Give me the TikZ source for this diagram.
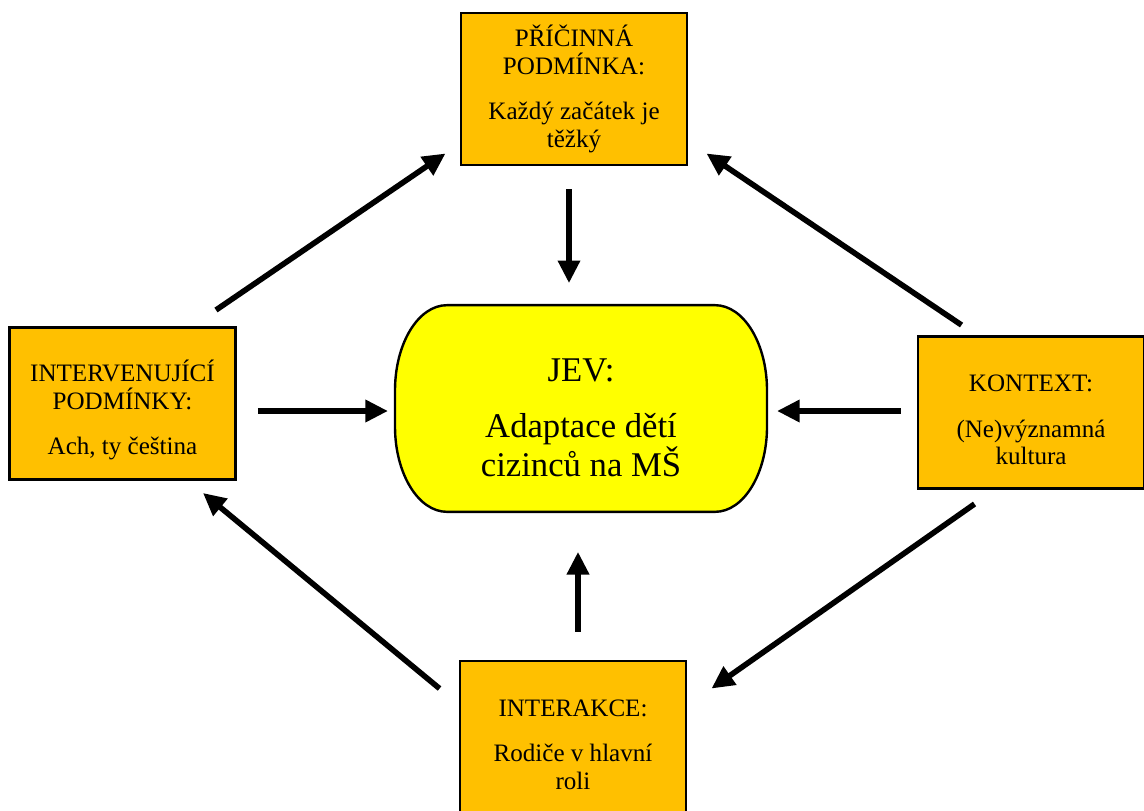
\documentclass[tikz,border=0pt]{standalone}
\usepackage{fontspec}
\setmainfont{Liberation Serif}
\usepackage{tikz}
\usetikzlibrary{arrows.meta,calc,backgrounds}

\definecolor{boxgold}{RGB}{255,192,0}
\definecolor{jevyellow}{RGB}{255,255,0}

\begin{document}
\begin{tikzpicture}[x=0.75pt,y=-0.75pt,
  condbox/.style={draw=black, line width=2.2pt, fill=boxgold, minimum width=169.5pt, minimum height=114pt, inner sep=0pt, align=center, font=\fontsize{18.8}{20.8}\selectfont},
  jevbox/.style={minimum width=279pt, minimum height=155pt, inner sep=0pt, outer sep=0pt, align=center, font=\fontsize{26}{29.5}\selectfont},
  flowarrow/.style={line width=4.2pt, -{Triangle[length=17pt,width=16pt]}}]
\useasboundingbox (0,0) rectangle (1144,810);

%Shape: Rectangle
\node[condbox] (pri) at (574,89) {PŘÍČINNÁ\\PODMÍNKA:\\[13pt]Každý začátek je\\těžký};
%Shape: Rectangle
\node[condbox] (interv) at (122.5,403.5) {\rule{0pt}{26pt}INTERVENUJÍCÍ\\PODMÍNKY:\\[13pt]Ach, ty čeština};
%Shape: Rectangle
\node[condbox] (kontext) at (1031,412.5) {\rule{0pt}{24pt}KONTEXT:\\[13pt](Ne)významná\\kultura};
%Shape: Rectangle
\node[condbox] (interakce) at (573,737) {\rule{0pt}{24pt}INTERAKCE:\\[13pt]Rodiče v hlavní\\roli};

% Text Node
\node[jevbox] (jev) at (581,408.5) {\rule{0pt}{31pt}JEV:\\[12pt]Adaptace dětí\\cizinců na MŠ};
%Shape: Rounded Rectangle
\begin{scope}[on background layer]
\draw[line width=1.8pt, fill=jevyellow] ([xshift=39pt]jev.north west) -- ([xshift=-39pt]jev.north east)
  arc[start angle=90, end angle=0, x radius=39pt, y radius=64pt] -- ([yshift=64pt]jev.south east)
  arc[start angle=0, end angle=-90, x radius=39pt, y radius=64pt] -- ([xshift=39pt]jev.south west)
  arc[start angle=270, end angle=180, x radius=39pt, y radius=64pt] -- ([yshift=-64pt]jev.north west)
  arc[start angle=180, end angle=90, x radius=39pt, y radius=64pt] -- cycle;
\end{scope}

%Straight Lines
\draw[flowarrow] ($(interv.north east)+(-21,-16)$) -- ($(pri.south west)+(-14,-13)$);
\draw[flowarrow] ($(kontext.north west)+(45,-10)$) -- ($(pri.south east)+(18,-13)$);
\draw[flowarrow] ($(kontext.south west)+(58,14)$) -- ($(interakce.north east)+(24,29)$);
\draw[flowarrow] ($(interakce.north west)+(-19,29)$) -- ($(interv.south east)+(-34,12)$);
%Straight Lines
\draw[flowarrow] ($(pri.south)+(-5,23)$) -- ($(jev.north)+(-12,-22)$);
\draw[flowarrow] ($(interakce.north)+(5,-28)$) -- ($(jev.south)+(-3,40)$);
\draw[flowarrow] ($(interv.east)+(21,7.5)$) -- ($(jev.west)+(-7,2.5)$);
\draw[flowarrow] ($(kontext.west)+(-16,-1.5)$) -- ($(jev.east)+(10,2.5)$);

\end{tikzpicture}
\end{document}
